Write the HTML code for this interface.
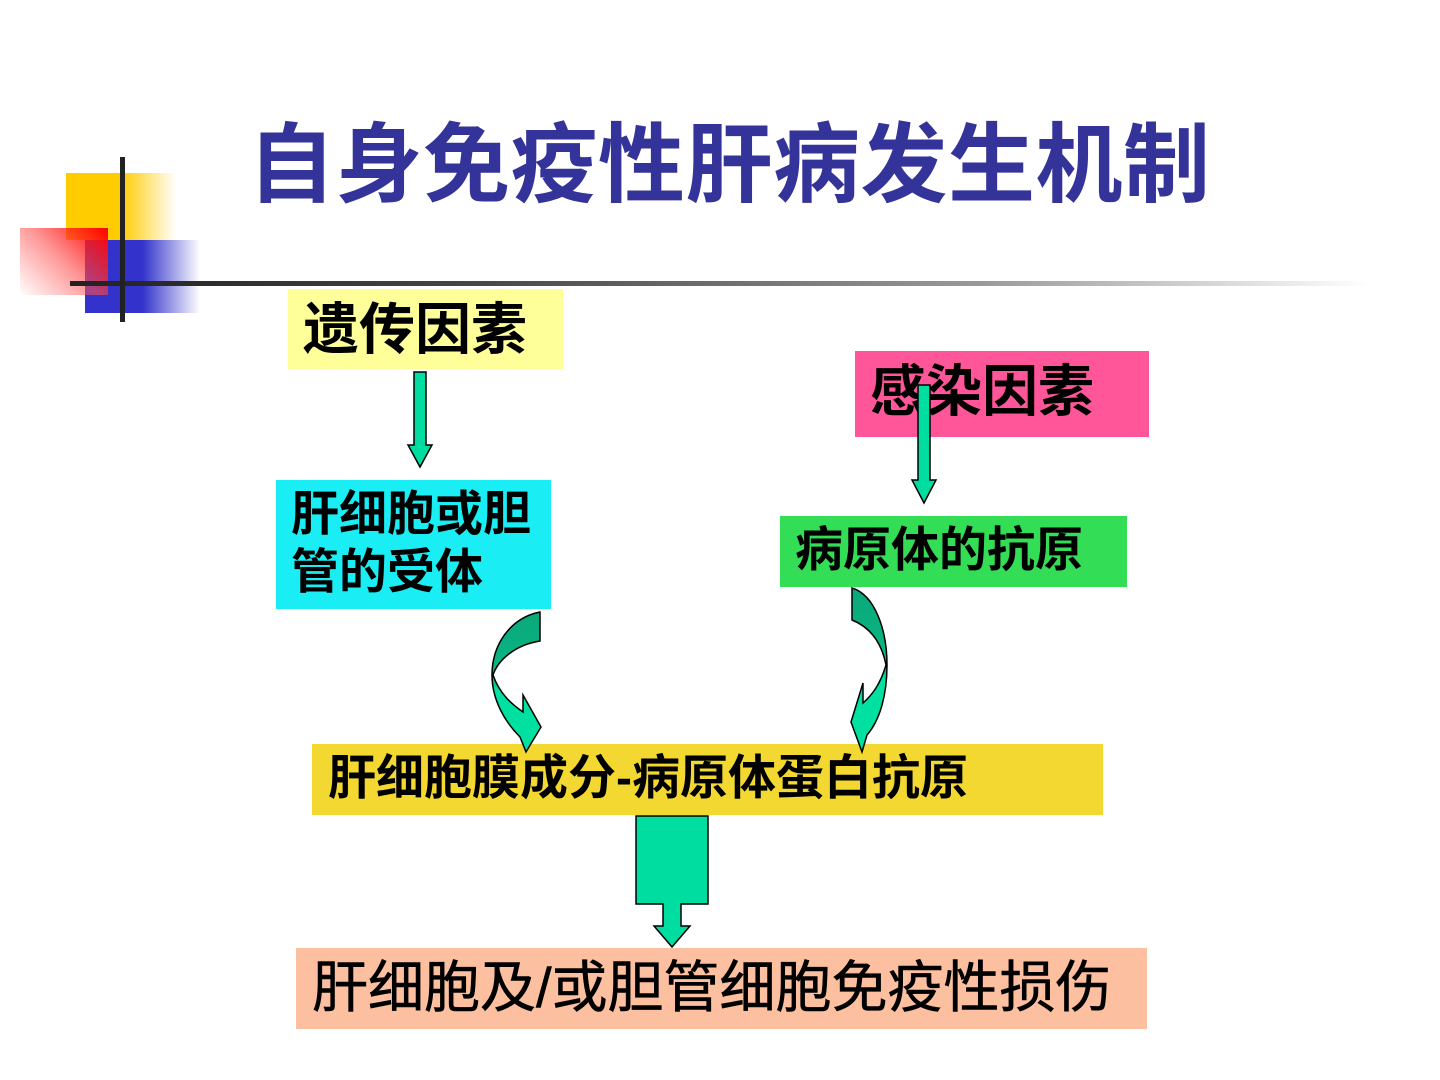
<!DOCTYPE html>
<html><head><meta charset="utf-8"><style>
html,body{margin:0;padding:0;background:#fff;}
body{width:1440px;height:1080px;position:relative;overflow:hidden;font-family:"Liberation Sans","Noto Sans CJK SC",sans-serif;}
.b{position:absolute;}
.t{position:absolute;white-space:nowrap;color:#000;font-weight:bold;}
</style></head><body>
<div class="b" style="left:66px;top:173px;width:110px;height:67px;background:linear-gradient(90deg,#ffcc00 0,#ffcc00 50%,rgba(255,204,0,0) 100%)"></div>
<div class="b" style="left:85px;top:240px;width:115px;height:73px;background:linear-gradient(90deg,#3333cc 0,#3333cc 50%,rgba(51,51,204,0) 100%)"></div>
<div class="b" style="left:20px;top:228px;width:88px;height:67px;background:linear-gradient(225deg,#ff0000 0,rgba(255,80,80,0.6) 50%,rgba(255,255,255,0) 100%)"></div>
<div class="b" style="left:70px;top:281px;width:1300px;height:5px;background:linear-gradient(90deg,#222 0,#444 30%,#999 70%,rgba(255,255,255,0) 100%)"></div>
<div class="b" style="left:120px;top:157px;width:5px;height:165px;background:#222"></div>
<div class="t" style="left:248px;top:116px;font-size:87px;line-height:100px;color:#333399;letter-spacing:0.5px;">自身免疫性肝病发生机制</div>

<div class="b" style="left:288px;top:289px;width:275px;height:80px;background:#ffff99"></div>
<div class="t" style="left:303px;top:298px;font-size:56px;line-height:64px;">遗传因素</div>
<div class="b" style="left:855px;top:351px;width:294px;height:86px;background:#ff5599"></div>
<div class="t" style="left:870px;top:360px;font-size:56px;line-height:64px;">感染因素</div>
<div class="b" style="left:276px;top:480px;width:275px;height:129px;background:#1aeef4"></div>
<div class="t" style="left:291px;top:486px;font-size:48px;line-height:58px;">肝细胞或胆<br>管的受体</div>
<div class="b" style="left:780px;top:516px;width:347px;height:71px;background:#33dd55"></div>
<div class="t" style="left:795px;top:522px;font-size:48px;line-height:58px;">病原体的抗原</div>
<div class="b" style="left:312px;top:744px;width:791px;height:71px;background:#f4d832"></div>
<div class="t" style="left:328px;top:750px;font-size:48px;line-height:58px;">肝细胞膜成分-病原体蛋白抗原</div>
<div class="b" style="left:296px;top:948px;width:851px;height:81px;background:#fcc0a0"></div>
<div class="t" style="left:312px;top:956px;font-size:56px;line-height:64px;font-weight:normal;-webkit-text-stroke:0.6px #000;">肝细胞及/或胆管细胞免疫性损伤</div>

<svg class="b" style="left:0;top:0" width="1440" height="1080">
<defs>
<linearGradient id="g" x1="0" y1="0" x2="0" y2="1"><stop offset="0" stop-color="#0aa87a"/><stop offset="0.5" stop-color="#0bb884"/><stop offset="0.55" stop-color="#00e0a0"/><stop offset="1" stop-color="#00e0a0"/></linearGradient>
</defs>
<g stroke="#000" stroke-width="1.5" fill="#00dda0">
<polygon points="414,372 426,372 426,445 432,445 420,467 408,445 414,445"/>
<polygon points="918,385 930,385 930,480 936,480 924,503 912,480 918,480"/>
<polygon points="636,816 708,816 708,904 681,904 681,926 690,926 672,947 654,926 663,926 663,904 636,904"/>
<path fill="url(#g)" d="M540,612 L540,641 C515,645 498,660 493,675 C500,695 513,705 523,712 L523,695 L541,727 L526,752 L520,737 C505,722 492,700 492,675 C492,645 510,618 540,612 Z"/>
<path fill="url(#g)" d="M852,588 L852,620 C872,628 882,645 886,665 C880,685 872,695 863,703 L863,683 L851,722 L862,752 L867,735 C880,720 887,695 887,665 C887,630 875,595 852,588 Z"/>
</g>
</svg>
</body></html>
